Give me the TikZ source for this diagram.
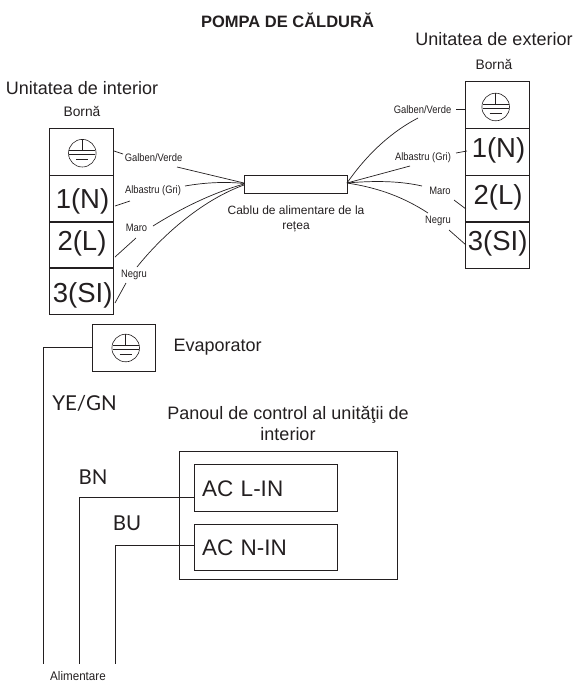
\documentclass[tikz,border=0pt]{standalone}
\usepackage{fontspec}
\setmainfont{Liberation Sans}
\newfontfamily\gillish{Lato}
\definecolor{ink}{HTML}{231F20}
\tikzset{
  x=1pt,y=-1pt,
  every node/.style={text=ink,inner sep=0pt,outer sep=0pt},
  cell/.style={draw=ink,line width=0.8pt,minimum width=64pt},
  tallcell/.style={cell,minimum height=47pt},
  celltxt/.style={font=\fontsize{27.5}{30}\selectfont},
  box/.style={draw=ink,line width=0.8pt},
  wire/.style={draw=ink,line width=0.7pt},
  tiny/.style={font=\fontsize{10.8}{12}\selectfont,xscale=0.87},
  head/.style={font=\fontsize{18}{21}\selectfont},
  mid/.style={font=\fontsize{13.8}{16}\selectfont},
  label/.style={font=\fontsize{18}{21}\selectfont},
  gill/.style={font=\gillish\fontsize{20.5}{24}\selectfont},
  acbox/.style={font=\fontsize{22.5}{25}\selectfont,text width=127pt,align=left},
  ground/.pic={
    \draw[ink,line width=0.6pt] (0,0) circle (13.8);
    \draw[ink,line width=0.6pt] (0,-13.8) -- (0,-3);
    \draw[ink,line width=0.6pt] (-13,-3) -- (13,-3);
    \draw[ink,line width=0.6pt] (-13,1.5) -- (13,1.5);
    \draw[ink,line width=0.6pt] (-6,6) -- (6,6);
  }
}
\begin{document}
\begin{tikzpicture}
\useasboundingbox (0,0) rectangle (574,683);
% titles
\node[font=\bfseries\fontsize{16.5}{19}\selectfont] (title) at (287.5,20) {POMPA DE CĂLDURĂ};
\node[head] (tin) at (82,88.5) {Unitatea de interior};
\node[mid] (bin) at (82,111) {Bornă};
\node[head] (tex) at (494,39.5) {Unitatea de exterior};
\node[mid] (bex) at (494,64) {Bornă};
% left terminals
\node[tallcell] (lg) at (81.5,151.5) {};
\node[tallcell] (ln) at (81.5,198.5) {};
\node[tallcell] (ll) at (81.5,245) {};
\node[tallcell] (ls) at (81.5,291) {};
\node[celltxt] (lnt) at (82.5,201.5) {1(N)};
\node[celltxt] (llt) at (82,243) {2(L)};
\node[celltxt] (lst) at (82.7,295) {3(SI)};
\pic at (82.3,153.2) {ground};
% right terminals
\node[tallcell] (rg) at (497.5,104.5) {};
\node[tallcell] (rn) at (497.5,151.5) {};
\node[tallcell] (rl) at (497.5,198.5) {};
\node[tallcell] (rs) at (497.5,245) {};
\node[celltxt] (rnt) at (498.5,150) {1(N)};
\node[celltxt] (rlt) at (498,197) {2(L)};
\node[celltxt] (rst) at (497.7,243) {3(SI)};
\pic at (495.7,107) {ground};
% cable
\node[box,minimum width=102.5pt,minimum height=18pt] (cable) at (295.7,184) {};
\node[font=\fontsize{12}{15}\selectfont,align=center] (cabletxt) at (296,219) {Cablu de alimentare de la\\rețea};
% wire labels
\node[tiny] (a1) at (153.5,158) {Galben/Verde};
\node[tiny] (a2) at (153,191) {Albastru (Gri)};
\node[tiny] (a3) at (136.5,228) {Maro};
\node[tiny] (a4) at (134,275) {Negru};
\node[tiny] (b1) at (422.5,110) {Galben/Verde};
\node[tiny] (b2) at (423,158) {Albastru (Gri)};
\node[tiny] (b3) at (440,190.5) {Maro};
\node[tiny] (b4) at (438,221) {Negru};
% wire ends
\coordinate (cl1) at (244,183);
\coordinate (cl2) at (244,183.5);
\coordinate (cl3) at (244,184);
\coordinate (cl4) at (244,185);
\coordinate (cr) at (347,183);
% left wires
\draw[wire] (114,151) -- (123,154);
\draw[wire] (177,167) -- (cl1);
\draw[wire] (115,206) -- (130,201);
\draw[wire] (185,186) .. controls (205,182.5) and (225,181.5) .. (cl2);
\draw[wire] (115,257) -- (136,238);
\draw[wire] (153,226) .. controls (180,209) and (212,193) .. (cl3);
\draw[wire] (115,303) -- (126,283);
\draw[wire] (137,267) .. controls (165,232) and (205,199) .. (cl4);
% right wires
\draw[wire] (456,109) -- (rg.west |- 0,109);
\draw[wire] (cr) .. controls (370,150) and (395,130) .. (418,118);
\draw[wire] (456,153) -- (467,151);
\draw[wire] (cr) -- (410,166);
\draw[wire] (cr) .. controls (375,180.5) and (400,181) .. (422,186);
\draw[wire] (454,200) -- (466,209);
\draw[wire] (cr) .. controls (380,188) and (405,198) .. (428,213);
\draw[wire] (449,230) -- (466,245);
% evaporator
\node[box,minimum width=63pt,minimum height=47pt] (evap) at (123.5,347.5) {};
\pic at (125.7,348) {ground};
\node[label,anchor=west] (evaptxt) at (173.5,347.5) {Evaporator};
% panel
\node[box,minimum width=218pt,minimum height=128pt] (panel) at (288,515) {};
\node[label,align=center] (paneltxt) at (288,423) {Panoul de control al unităţii de\\interior};
\node[box,minimum width=143pt,minimum height=46.5pt] (acl) at (265.5,488) {};
\node[box,minimum width=143pt,minimum height=46.5pt] (acn) at (265.5,547.5) {};
\node[acbox] (acltxt) at (265.5,488.5) {AC L-IN};
\node[acbox] (acntxt) at (265.5,548) {AC N-IN};
% lower labels
\node[gill] (ye) at (84.5,403) {YE/GN};
\node[gill] (bn) at (93,477) {BN};
\node[gill] (bu) at (127,523) {BU};
\node[font=\fontsize{12.5}{14}\selectfont,xscale=0.93] (ali) at (78,676.5) {Alimentare};
% lower wires
\coordinate (yeend) at (43,664);
\coordinate (bnend) at (79,664);
\coordinate (buend) at (115,664);
\draw[wire,line width=0.8pt] (evap.west) -| (yeend);
\draw[wire,line width=0.8pt] (acl.west |- 0,497) -| (bnend);
\draw[wire,line width=0.8pt] (acn.west |- 0,545) -| (buend);
\end{tikzpicture}
\end{document}
